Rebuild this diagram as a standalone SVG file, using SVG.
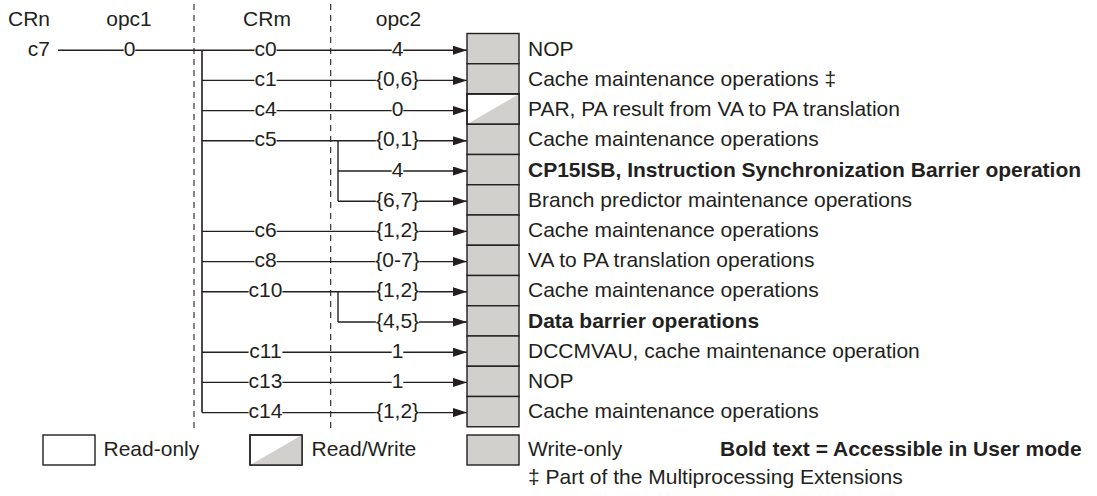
<svg xmlns="http://www.w3.org/2000/svg" width="1097" height="496" viewBox="0 0 1097 496">
<style>
text{font-family:"Liberation Sans",Arial,sans-serif;font-size:21px;fill:#231f20}
.b{font-weight:bold}
.m{text-anchor:middle}
.ln{stroke:#231f20;stroke-width:1.4;fill:none}
.ar{stroke:#231f20;stroke-width:1.4;fill:none;marker-end:url(#ah)}
.dash{stroke:#231f20;stroke-width:1.1;stroke-dasharray:6,5;fill:none}
.wo{fill:#d1d0cd;stroke:#231f20;stroke-width:1.4}
.ro{fill:#fff;stroke:#231f20;stroke-width:1.4}
.tri{fill:#d1d0cd;stroke:none}
</style>
<defs>
<marker id="ah" markerUnits="userSpaceOnUse" markerWidth="14" markerHeight="9" refX="14" refY="4.5" orient="auto">
<path d="M0,0 L14,4.5 L0,9 z" fill="#231f20"/>
</marker>
</defs>
<rect width="1097" height="496" fill="#fff"/>
<g id="headers">
<text x="29" y="26" class="m">CRn</text>
<text x="129" y="26" class="m">opc1</text>
<text x="267" y="26" class="m">CRm</text>
<text x="398.5" y="26" class="m">opc2</text>
</g>
<g id="dividers">
<line x1="194" y1="4" x2="194" y2="428" class="dash"/>
<line x1="330.7" y1="4" x2="330.7" y2="428" class="dash"/>
</g>
<g id="connectors">
<line x1="202" y1="50.2" x2="202" y2="412.6" stroke="#3a3637" stroke-width="1.8"/>
<line x1="338" y1="140.8" x2="338" y2="201.2" class="ln"/>
<line x1="338" y1="291.8" x2="338" y2="322" class="ln"/>
<!-- row 0 -->
<line x1="58" y1="50.2" x2="123.7" y2="50.2" class="ln"/>
<line x1="135.3" y1="50.2" x2="254.4" y2="50.2" class="ln"/>
<line x1="276.6" y1="50.2" x2="391.7" y2="50.2" class="ln"/>
<line x1="403.3" y1="50.2" x2="467" y2="50.2" class="ar"/>
<!-- row 1 -->
<line x1="202" y1="80.4" x2="254.4" y2="80.4" class="ln"/>
<line x1="276.6" y1="80.4" x2="375.9" y2="80.4" class="ln"/>
<line x1="419.1" y1="80.4" x2="467" y2="80.4" class="ar"/>
<!-- row 2 -->
<line x1="202" y1="110.6" x2="254.4" y2="110.6" class="ln"/>
<line x1="276.6" y1="110.6" x2="391.7" y2="110.6" class="ln"/>
<line x1="403.3" y1="110.6" x2="467" y2="110.6" class="ar"/>
<!-- row 3 -->
<line x1="202" y1="140.8" x2="254.4" y2="140.8" class="ln"/>
<line x1="276.6" y1="140.8" x2="375.9" y2="140.8" class="ln"/>
<line x1="419.1" y1="140.8" x2="467" y2="140.8" class="ar"/>
<!-- row 4 -->
<line x1="338" y1="171" x2="391.7" y2="171" class="ln"/>
<line x1="403.3" y1="171" x2="467" y2="171" class="ar"/>
<!-- row 5 -->
<line x1="338" y1="201.2" x2="375.9" y2="201.2" class="ln"/>
<line x1="419.1" y1="201.2" x2="467" y2="201.2" class="ar"/>
<!-- row 6 -->
<line x1="202" y1="231.4" x2="254.4" y2="231.4" class="ln"/>
<line x1="276.6" y1="231.4" x2="375.9" y2="231.4" class="ln"/>
<line x1="419.1" y1="231.4" x2="467" y2="231.4" class="ar"/>
<!-- row 7 -->
<line x1="202" y1="261.6" x2="254.4" y2="261.6" class="ln"/>
<line x1="276.6" y1="261.6" x2="375.3" y2="261.6" class="ln"/>
<line x1="419.7" y1="261.6" x2="467" y2="261.6" class="ar"/>
<!-- row 8 -->
<line x1="202" y1="291.8" x2="248.6" y2="291.8" class="ln"/>
<line x1="282.4" y1="291.8" x2="375.9" y2="291.8" class="ln"/>
<line x1="419.1" y1="291.8" x2="467" y2="291.8" class="ar"/>
<!-- row 9 -->
<line x1="338" y1="322" x2="375.9" y2="322" class="ln"/>
<line x1="419.1" y1="322" x2="467" y2="322" class="ar"/>
<!-- row 10 -->
<line x1="202" y1="352.2" x2="248.6" y2="352.2" class="ln"/>
<line x1="282.4" y1="352.2" x2="391.7" y2="352.2" class="ln"/>
<line x1="403.3" y1="352.2" x2="467" y2="352.2" class="ar"/>
<!-- row 11 -->
<line x1="202" y1="382.4" x2="248.6" y2="382.4" class="ln"/>
<line x1="282.4" y1="382.4" x2="391.7" y2="382.4" class="ln"/>
<line x1="403.3" y1="382.4" x2="467" y2="382.4" class="ar"/>
<!-- row 12 -->
<line x1="202" y1="412.6" x2="248.6" y2="412.6" class="ln"/>
<line x1="282.4" y1="412.6" x2="375.9" y2="412.6" class="ln"/>
<line x1="419.1" y1="412.6" x2="467" y2="412.6" class="ar"/>
<g id="connector-labels">
<text x="50" y="55.7" text-anchor="end">c7</text>
<text x="129.5" y="55.7" class="m">0</text>
<text x="265.5" y="55.7" class="m">c0</text>
<text x="265.5" y="85.9" class="m">c1</text>
<text x="265.5" y="116.1" class="m">c4</text>
<text x="265.5" y="146.3" class="m">c5</text>
<text x="265.5" y="236.9" class="m">c6</text>
<text x="265.5" y="267.1" class="m">c8</text>
<text x="265.5" y="297.3" class="m">c10</text>
<text x="265.5" y="357.7" class="m">c11</text>
<text x="265.5" y="387.9" class="m">c13</text>
<text x="265.5" y="418.1" class="m">c14</text>
<text x="397.5" y="55.7" class="m">4</text>
<text x="397.5" y="85.9" class="m">{0,6}</text>
<text x="397.5" y="116.1" class="m">0</text>
<text x="397.5" y="146.3" class="m">{0,1}</text>
<text x="397.5" y="176.5" class="m">4</text>
<text x="397.5" y="206.7" class="m">{6,7}</text>
<text x="397.5" y="236.9" class="m">{1,2}</text>
<text x="397.5" y="267.1" class="m">{0-7}</text>
<text x="397.5" y="297.3" class="m">{1,2}</text>
<text x="397.5" y="327.5" class="m">{4,5}</text>
<text x="397.5" y="357.7" class="m">1</text>
<text x="397.5" y="387.9" class="m">1</text>
<text x="397.5" y="418.1" class="m">{1,2}</text>
</g>
</g>
<g id="reg-c0-4"><rect x="467" y="33.5" width="52" height="30.25" class="wo"/><text x="528" y="55.7">NOP</text></g>
<g id="reg-c1-06"><rect x="467" y="63.75" width="52" height="30.25" class="wo"/><text x="528" y="85.9">Cache maintenance operations ‡</text></g>
<g id="reg-c4-0"><rect x="467" y="94" width="52" height="30.25" class="ro"/><polygon points="467,124.25 519,94 519,124.25" class="tri"/><rect x="467" y="94" width="52" height="30.25" fill="none" stroke="#231f20" stroke-width="1.4"/><text x="528" y="116.1">PAR, PA result from VA to PA translation</text></g>
<g id="reg-c5-01"><rect x="467" y="124.25" width="52" height="30.25" class="wo"/><text x="528" y="146.3">Cache maintenance operations</text></g>
<g id="reg-c5-4"><rect x="467" y="154.5" width="52" height="30.25" class="wo"/><text x="528" y="176.5" class="b">CP15ISB, Instruction Synchronization Barrier operation</text></g>
<g id="reg-c5-67"><rect x="467" y="184.75" width="52" height="30.25" class="wo"/><text x="528" y="206.7">Branch predictor maintenance operations</text></g>
<g id="reg-c6-12"><rect x="467" y="215" width="52" height="30.25" class="wo"/><text x="528" y="236.9">Cache maintenance operations</text></g>
<g id="reg-c8-07"><rect x="467" y="245.25" width="52" height="30.25" class="wo"/><text x="528" y="267.1">VA to PA translation operations</text></g>
<g id="reg-c10-12"><rect x="467" y="275.5" width="52" height="30.25" class="wo"/><text x="528" y="297.3">Cache maintenance operations</text></g>
<g id="reg-c10-45"><rect x="467" y="305.75" width="52" height="30.25" class="wo"/><text x="528" y="327.5" class="b">Data barrier operations</text></g>
<g id="reg-c11-1"><rect x="467" y="336" width="52" height="30.25" class="wo"/><text x="528" y="357.7">DCCMVAU, cache maintenance operation</text></g>
<g id="reg-c13-1"><rect x="467" y="366.25" width="52" height="30.25" class="wo"/><text x="528" y="387.9">NOP</text></g>
<g id="reg-c14-12"><rect x="467" y="396.5" width="52" height="30.25" class="wo"/><text x="528" y="418.1">Cache maintenance operations</text></g>
<g id="legend">
<rect x="43" y="435" width="52" height="30" class="ro"/>
<text x="103.5" y="455.5">Read-only</text>
<rect x="250" y="435" width="52" height="30" class="ro"/>
<polygon points="250,465 302,435 302,465" class="tri"/>
<rect x="250" y="435" width="52" height="30" fill="none" stroke="#231f20" stroke-width="1.4"/>
<text x="311.5" y="455.5">Read/Write</text>
<rect x="467" y="435" width="52" height="30" class="wo"/>
<text x="528" y="455.5">Write-only</text>
<text x="720" y="455.5" class="b">Bold text = Accessible in User mode</text>
<text x="528" y="484">‡ Part of the Multiprocessing Extensions</text>
</g>
</svg>
